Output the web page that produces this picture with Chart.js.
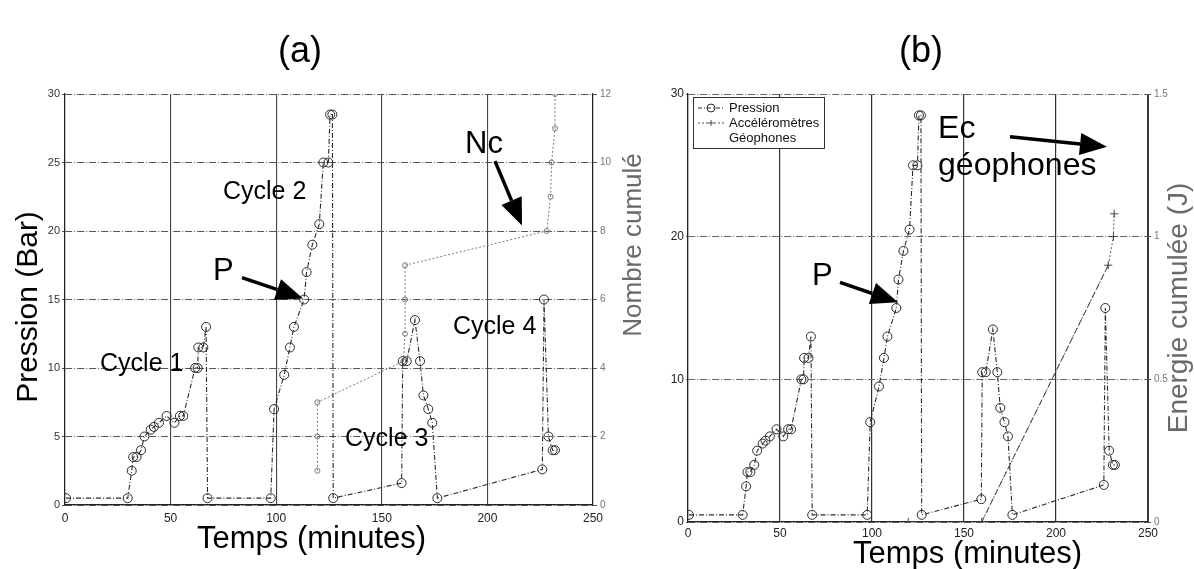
<!DOCTYPE html>
<html>
<head>
<meta charset="utf-8">
<script src="https://cdn.jsdelivr.net/npm/chart.js@4.4.1/dist/chart.umd.min.js"></script>
<style>
body { margin: 0; background: #fff; width: 1194px; height: 569px; overflow: hidden; position: relative; }
#chartA { position: absolute; left: 0; top: 0; }
#chartB { position: absolute; left: 655px; top: 0; }
</style>
</head>
<body>
<canvas id="chartA" width="655" height="569"></canvas>
<canvas id="chartB" width="539" height="569"></canvas>
<script>
// pression (bar) en fonction du temps (minutes)
const timeMin = [0.5, 29.7, 31.6, 32.3, 33.9, 36, 37.6, 40.6, 42.1, 44.5, 48.1, 51.8, 54.4, 56,
    61.6, 62.8, 63.1, 65.5, 66.8, 67.5, 97.4, 99, 103.8, 106.5, 108.4, 113.2, 114.4, 117.1,
    120.4, 122.3, 124.7, 125.5, 126.6, 127, 159.4, 159.9, 161.8, 165.7, 168.1, 169.7, 172,
    173.9, 176.3, 226, 226.8, 228.9, 230.9, 232];
const pressureBar = [0.5, 0.5, 2.5, 3.5, 3.5, 4, 5, 5.5, 5.7, 6, 6.5, 6, 6.5, 6.5,
    10, 10, 11.5, 11.5, 13, 0.5, 0.5, 7, 9.5, 11.5, 13, 15, 17, 19,
    20.5, 25, 25, 28.5, 28.5, 0.5, 1.6, 10.5, 10.5, 13.5, 10.5, 8, 7,
    6, 0.5, 2.6, 15, 5, 4, 4];

// nombre cumulé (a)
const ncTime = [119.5, 119.5, 119.5, 160.2, 161, 161, 161, 228.1, 229.9, 230.4, 232, 232];
const ncCount = [1, 2, 3, 4.2, 5, 6, 7, 8, 9, 10, 11, 12];

// énergie cumulée (b)
const accTime = [119.7, 159.6, 228.4, 231.2, 231.6];
const accEnergy = [0, 0, 0.9, 1.0, 1.08];
const geoTime = [159.6, 228.4];
const geoEnergy = [0, 0.9];

const FONT = '"Liberation Sans", Arial, Helvetica, sans-serif';

function pts(xs, ys) {
    return xs.map((x, i) => ({ x: x, y: ys[i] }));
}

function fixSize(w, h) {
    return function(scale) {
        if (w !== null) scale.width = w;
        if (h !== null) scale.height = h;
    };
}

function drawText(ctx, txt, x, y, size, color, rot) {
    ctx.save();
    ctx.translate(x, y);
    if (rot) ctx.rotate(rot);
    ctx.font = size + 'px ' + FONT;
    ctx.fillStyle = color;
    ctx.textAlign = rot ? 'center' : 'left';
    ctx.textBaseline = 'alphabetic';
    ctx.fillText(txt, 0, 0);
    ctx.restore();
}

function drawArrow(ctx, x1, y1, x2, y2) {
    const ang = Math.atan2(y2 - y1, x2 - x1);
    const len = 27, half = 11;
    const bx = x2 - len * Math.cos(ang), by = y2 - len * Math.sin(ang);
    ctx.save();
    ctx.strokeStyle = '#000';
    ctx.fillStyle = '#000';
    ctx.lineWidth = 3.5;
    ctx.beginPath();
    ctx.moveTo(x1, y1);
    ctx.lineTo(bx, by);
    ctx.stroke();
    ctx.beginPath();
    ctx.moveTo(x2, y2);
    ctx.lineTo(bx + half * Math.sin(ang), by - half * Math.cos(ang));
    ctx.lineTo(bx - half * Math.sin(ang), by + half * Math.cos(ang));
    ctx.closePath();
    ctx.fill();
    ctx.restore();
}

// textes et flèches placés en unités des données
const labelsA = [
    { t: 16.6, v: 9.76, txt: 'Cycle 1', size: 25 },
    { t: 74.8, v: 22.3, txt: 'Cycle 2', size: 25 },
    { t: 132.6, v: 4.3, txt: 'Cycle 3', size: 25 },
    { t: 183.7, v: 12.5, txt: 'Cycle 4', size: 25 },
    { t: 70.1, v: 16.4, txt: 'P', size: 31 },
    { t: 189.4, v: 25.7, txt: 'Nc', size: 31 }
];
const arrowsA = [
    [83.8, 16.6, 112.7, 15.08],
    [203.6, 25.1, 216.4, 20.4]
];
const labelsB = [
    { t: 67.4, v: 16.6, txt: 'P', size: 31 },
    { t: 135.9, v: 26.9, txt: 'Ec', size: 32 },
    { t: 135.9, v: 24.3, txt: 'géophones', size: 32 }
];
const arrowsB = [
    [82.6, 16.8, 114.1, 15.4],
    [175, 27.0, 227.7, 26.3]
];

function annotations(opts) {
    return {
        id: 'annot',
        afterDraw(chart) {
            const ctx = chart.ctx;
            const sx = chart.scales.x, sy = chart.scales.y;
            opts.labels.forEach(l => {
                drawText(ctx, l.txt, sx.getPixelForValue(l.t), sy.getPixelForValue(l.v), l.size, '#000');
            });
            opts.arrows.forEach(a => {
                drawArrow(ctx, sx.getPixelForValue(a[0]), sy.getPixelForValue(a[1]),
                    sx.getPixelForValue(a[2]), sy.getPixelForValue(a[3]));
            });
            drawText(ctx, opts.title, opts.titleX, 62, 36, '#000');
            drawText(ctx, 'Temps (minutes)', opts.xTitleX, opts.xTitleY, 31, '#000', 0);
            drawText(ctx, opts.yTitle, opts.yTitleX, opts.yTitleY, 30, '#000', -Math.PI / 2);
            drawText(ctx, opts.y1Title, opts.y1TitleX, opts.y1TitleY, opts.y1Size, '#6a6a6a', -Math.PI / 2);
            if (opts.legend) opts.legend(ctx);
        }
    };
}

function tickFont(size) {
    return { family: FONT, size: size };
}

const pressureStyle = {
    borderColor: '#2a2a2a',
    borderWidth: 1.1,
    borderDash: [5, 2, 1, 2],
    pointStyle: 'circle',
    pointRadius: 4.5,
    pointBorderWidth: 1,
    pointBorderColor: '#2a2a2a',
    pointBackgroundColor: 'rgba(255,255,255,0)',
    showLine: true,
    tension: 0
};

// ----- graphique (a)
new Chart(document.getElementById('chartA'), {
    type: 'line',
    data: {
        datasets: [
            Object.assign({ label: 'Pression', data: pts(timeMin, pressureBar), yAxisID: 'y' }, pressureStyle),
            {
                label: 'Nombre cumulé',
                data: pts(ncTime, ncCount),
                yAxisID: 'y1',
                borderColor: '#777',
                borderWidth: 1,
                borderDash: [2, 2],
                pointStyle: 'circle',
                pointRadius: 2.5,
                pointBorderWidth: 1,
                pointBorderColor: '#777',
                pointBackgroundColor: 'rgba(255,255,255,0)',
                tension: 0
            }
        ]
    },
    options: {
        responsive: false,
        animation: false,
        layout: { padding: { top: 94, left: 0, right: 0, bottom: 0 } },
        plugins: { legend: { display: false }, tooltip: { enabled: false } },
        scales: {
            x: {
                type: 'linear', min: 0, max: 250,
                afterFit: fixSize(null, 64),
                ticks: { stepSize: 50, color: '#222', font: tickFont(12), padding: 6 },
                grid: { color: '#444', lineWidth: 1.1, tickLength: 0 },
                border: { color: '#222', width: 1.2 }
            },
            y: {
                min: 0, max: 30,
                afterFit: fixSize(65, null),
                ticks: { stepSize: 5, color: '#333', font: tickFont(11), padding: 2 },
                grid: { color: '#555', lineWidth: 1, tickLength: 3 },
                border: { color: '#222', width: 1.2, dash: [7, 2, 1, 2] }
            },
            y1: {
                position: 'right', min: 0, max: 12,
                afterFit: fixSize(62, null),
                ticks: { stepSize: 2, color: '#777', font: tickFont(10), padding: 3 },
                grid: { drawOnChartArea: false, tickLength: 4, color: '#555' },
                border: { color: '#222', width: 1.2 }
            }
        }
    },
    plugins: [annotations({
        labels: labelsA, arrows: arrowsA,
        title: '(a)', titleX: 278,
        xTitleX: 197, xTitleY: 548,
        yTitle: 'Pression (Bar)', yTitleX: 37, yTitleY: 307,
        y1Title: 'Nombre cumulé', y1TitleX: 641, y1TitleY: 245, y1Size: 26
    })]
});

// ----- graphique (b)
function legendB(ctx) {
    const L = 38, T = 97, W = 131, H = 51;
    ctx.save();
    ctx.fillStyle = '#fff';
    ctx.fillRect(L, T, W, H);
    ctx.strokeStyle = '#333';
    ctx.lineWidth = 1;
    ctx.setLineDash([]);
    ctx.strokeRect(L + 0.5, T + 0.5, W, H);
    // pression
    ctx.strokeStyle = '#2a2a2a';
    ctx.setLineDash([4, 2, 1, 2]);
    ctx.beginPath(); ctx.moveTo(43, 108); ctx.lineTo(70, 108); ctx.stroke();
    ctx.setLineDash([]);
    ctx.beginPath(); ctx.arc(56, 108, 4, 0, Math.PI * 2); ctx.stroke();
    // accéléromètres
    ctx.strokeStyle = '#555';
    ctx.setLineDash([2, 2]);
    ctx.beginPath(); ctx.moveTo(43, 123); ctx.lineTo(70, 123); ctx.stroke();
    ctx.setLineDash([]);
    ctx.beginPath(); ctx.moveTo(53, 123); ctx.lineTo(59, 123); ctx.moveTo(56, 120); ctx.lineTo(56, 126); ctx.stroke();
    ctx.font = '13px ' + FONT;
    ctx.fillStyle = '#111';
    ctx.textBaseline = 'middle';
    ctx.fillText('Pression', 74, 108);
    ctx.fillText('Accéléromètres', 74, 123);
    ctx.fillText('Géophones', 74, 138);
    ctx.restore();
}

new Chart(document.getElementById('chartB'), {
    type: 'line',
    data: {
        datasets: [
            Object.assign({ label: 'Pression', data: pts(timeMin, pressureBar), yAxisID: 'y' }, pressureStyle),
            {
                label: 'Accéléromètres',
                data: pts(accTime, accEnergy),
                yAxisID: 'y1',
                borderColor: '#555',
                borderWidth: 1,
                borderDash: [2, 2],
                pointStyle: 'cross',
                pointRadius: 4,
                pointBorderWidth: 1,
                pointBorderColor: '#444',
                tension: 0
            },
            {
                label: 'Géophones',
                data: pts(geoTime, geoEnergy),
                yAxisID: 'y1',
                borderColor: '#333',
                borderWidth: 1,
                borderDash: [6, 4],
                pointRadius: 0,
                tension: 0
            }
        ]
    },
    options: {
        responsive: false,
        animation: false,
        layout: { padding: { top: 94, left: 0, right: 0, bottom: 0 } },
        plugins: { legend: { display: false }, tooltip: { enabled: false } },
        scales: {
            x: {
                type: 'linear', min: 0, max: 250,
                afterFit: fixSize(null, 47),
                ticks: { stepSize: 50, color: '#222', font: tickFont(12), padding: 4 },
                grid: { color: '#333', lineWidth: 1.2, tickLength: 0 },
                border: { color: '#222', width: 1.2 }
            },
            y: {
                min: 0, max: 30,
                afterFit: fixSize(33, null),
                ticks: { stepSize: 10, color: '#222', font: tickFont(12), padding: 2 },
                grid: { color: '#666', lineWidth: 1, tickLength: 2 },
                border: { color: '#222', width: 1.2, dash: [7, 2, 1, 2] }
            },
            y1: {
                position: 'right', min: 0, max: 1.5,
                afterFit: fixSize(46, null),
                ticks: {
                    stepSize: 0.5, color: '#777', font: tickFont(10), padding: 3,
                    callback: v => String(v)
                },
                grid: { drawOnChartArea: false, tickLength: 3, color: '#555' },
                border: { color: '#444', width: 1, dash: [2, 2] }
            }
        }
    },
    plugins: [annotations({
        labels: labelsB, arrows: arrowsB,
        title: '(b)', titleX: 244,
        xTitleX: 198, xTitleY: 563,
        yTitle: '', yTitleX: 0, yTitleY: 0,
        y1Title: 'Energie cumulée (J)', y1TitleX: 532, y1TitleY: 308, y1Size: 28,
        legend: legendB
    })]
});
</script>
</body>
</html>
